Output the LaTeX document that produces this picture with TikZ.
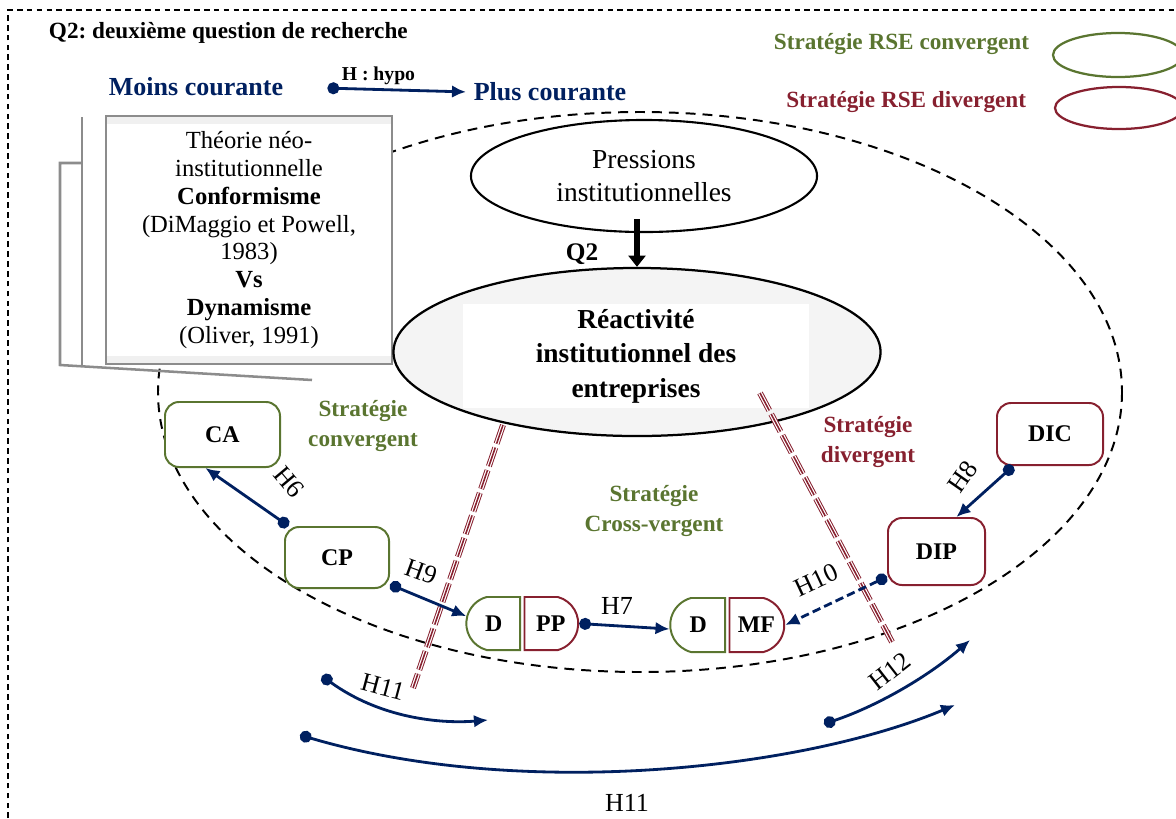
\documentclass[tikz,border=0pt]{standalone}
\usepackage{fontspec}
\setmainfont{Liberation Serif}
\usetikzlibrary{shapes.misc,shapes.geometric,arrows.meta}
\definecolor{navy}{HTML}{002060}
\definecolor{convgreen}{HTML}{5A7530}
\definecolor{divred}{HTML}{87202F}
\definecolor{boxgray}{HTML}{8C8C8C}
\frenchspacing

\begin{document}
\begin{tikzpicture}[x=0.025cm, y=-0.025cm,
    hyp/.style = {draw=navy, line width=2pt, {Circle[length=8.5pt]}-{Latex[length=10pt,width=9pt]}},
    hlabel/.style = {font=\fontsize{18.5}{20}\selectfont, inner sep=1pt},
    strat/.style = {font=\fontsize{16.5}{22}\selectfont\bfseries, align=center},
    conv/.style = {draw=convgreen, line width=1.4pt, fill=white, rounded corners=10pt, font=\fontsize{17}{20}\selectfont\bfseries},
    div/.style = {conv, draw=divred},
    halfnode/.style = {rounded rectangle, rounded rectangle arc length=150, line width=1.4pt, fill=white,
      minimum height=1.325cm, inner xsep=0.5pt, font=\fontsize{17}{20}\selectfont\bfseries}
  ]
  \useasboundingbox (0,0) rectangle (1176,818);
  % cadre et question
  \draw[line width=1pt, dash pattern=on 4pt off 3pt] (8,818) -- (8,10) -- (1176,10);
  \node[anchor=west, font=\fontsize{16.5}{19}\selectfont\bfseries] (titre) at (44,33) {Q2: deuxième question de recherche};
  \node[text=navy, font=\fontsize{18.5}{22}\selectfont\bfseries] (moins) at (196,87) {Moins courante};
  \node[text=navy, font=\fontsize{18.5}{22}\selectfont\bfseries] (plus) at (550,92) {Plus courante};
  \draw[hyp, shorten <=28pt, shorten >=2pt] (moins.east) -- node[above=-1pt, text=black, font=\fontsize{14}{16}\selectfont\bfseries] {H : hypo} (plus.west);
  % legende
  \node[anchor=east, text=convgreen, font=\fontsize{16.5}{19}\selectfont\bfseries] (legc) at (1034,44) {Stratégie RSE convergent};
  \node[anchor=east, text=divred, font=\fontsize{16.5}{19}\selectfont\bfseries] (legd) at (1031,102) {Stratégie RSE divergent};
  \node[ellipse, draw=convgreen, line width=1.6pt, minimum width=3.25cm, minimum height=1.1cm] (ellc) at (1118,55) {};
  \node[ellipse, draw=divred, line width=1.6pt, minimum width=3.2cm, minimum height=1.05cm] (elld) at (1119,108) {};

  % grande ellipse
  \draw[line width=1.4pt, dash pattern=on 7pt off 5pt] (640,392) ellipse [x radius=482, y radius=280];

  % theorie
  \draw[boxgray, line width=1.8pt] (82,117) -- (82,365);
  \draw[boxgray, line width=1.8pt] (82,163) -- (60,163) -- (60,365) -- (312,380);
  \node[draw=boxgray, line width=1.8pt, fill=white, minimum width=7.15cm, minimum height=6.2cm, align=center,
    font=\fontsize{17.5}{19.8}\selectfont,
    path picture={\fill[gray!12] (path picture bounding box.north west) rectangle ([yshift=-6pt]path picture bounding box.north east);
      \fill[gray!12] (path picture bounding box.south west) rectangle ([yshift=6pt]path picture bounding box.south east);}]
    (theorie) at (249,240) {Théorie néo-\\institutionnelle\\\textbf{Conformisme}\\(DiMaggio et Powell,\\1983)\\\textbf{Vs}\\\textbf{Dynamisme}\\(Oliver, 1991)};

  % pressions et reactivite
  \node[ellipse, draw, line width=1.5pt, fill=white, minimum width=8.65cm, minimum height=2.8cm, align=center,
    font=\fontsize{19.5}{24}\selectfont] (pressions) at (644,176) {Pressions\\institutionnelles};
  \node[ellipse, draw, line width=1.6pt, fill=gray!9, minimum width=12.175cm, minimum height=4.2cm] (reac) at (637,352) {};
  \node[fill=white, minimum width=8.625cm, minimum height=2.575cm, align=center,
    font=\fontsize{19.5}{24.5}\selectfont\bfseries] (reactxt) at (636,356) {Réactivité\\institutionnel des\\entreprises};
  \draw[line width=4pt, -{Triangle[length=8pt,width=12pt]}, shorten <=-10pt] (reac.north |- pressions.south) -- (reac.north);
  \node[font=\fontsize{18}{20}\selectfont\bfseries] (q2) at (582,254) {Q2};

  % separations
  \coordinate (sepA1) at (503,425);
  \coordinate (sepA2) at (413,688);
  \coordinate (sepB1) at (760,393);
  \coordinate (sepB2) at (892,642);
  \foreach \a/\b in {sepA1/sepA2, sepB1/sepB2} {
    \draw[divred, line width=4.2pt, dash pattern=on 14pt off 3pt] (\a) -- (\b);
    \draw[white, line width=2.8pt, dash pattern=on 14pt off 3pt] (\a) -- (\b);
    \draw[divred, line width=1.1pt, dash pattern=on 14pt off 3pt] (\a) -- (\b);
  }

  % textes strategies
  \node[strat, text=convgreen] (sconv) at (363,426) {Stratégie\\convergent};
  \node[strat, text=divred] (sdiv) at (868,442) {Stratégie\\divergent};
  \node[strat, text=convgreen] (scross) at (654,511) {Stratégie\\Cross-vergent};

  % noeuds
  \node[conv, minimum width=2.875cm, minimum height=1.625cm] (ca) at (222.5,434.5) {CA};
  \node[conv, minimum width=2.6cm, minimum height=1.525cm] (cp) at (337,557.5) {CP};
  \node[div, minimum width=2.425cm, minimum height=1.675cm] (dip) at (936.5,551.5) {DIP};
  \node[div, minimum width=2.65cm, minimum height=1.55cm] (dic) at (1050,434) {DIC};
  \node[halfnode, draw=convgreen, rounded rectangle east arc=none, anchor=east, minimum width=1.075cm] (dppL) at (521,623.5) {D};
  \node[halfnode, draw=divred, rounded rectangle west arc=none, anchor=west, minimum width=1.125cm] (dppR) at (523.5,623.5) {PP};
  \node[halfnode, draw=convgreen, rounded rectangle east arc=none, anchor=east, minimum width=1.25cm, minimum height=1.35cm] (dmfL) at (726,625) {D};
  \node[halfnode, draw=divred, rounded rectangle west arc=none, anchor=west, minimum width=1.4cm, minimum height=1.35cm] (dmfR) at (728.5,625) {MF};

  % hypotheses
  \draw[hyp] (cp.147) -- (ca.243);
  \draw[hyp] (cp.-27) -- (dppL.165);
  \draw[hyp] (dppR.east) -- (dmfL.188);
  \draw[hyp, dash pattern=on 6pt off 3pt] (dip.207) -- (dmfR.east);
  \draw[hyp] (dic.221) -- (dip.60);
  \node[hlabel, rotate=-50] (h6) at (289,482) {H6};
  \node[hlabel, rotate=-20] (h9) at (421,572) {H9};
  \node[hlabel] (h7) at (617,606) {H7};
  \node[hlabel, rotate=25] (h10) at (816,580) {H10};
  \node[hlabel, rotate=55] (h8) at (963,477) {H8};

  % fleches du bas
  \coordinate (h11a) at (322,676);
  \coordinate (h11b) at (488,720);
  \coordinate (h11c) at (300,735);
  \coordinate (h11d) at (955,705);
  \coordinate (h12a) at (824,724);
  \coordinate (h12b) at (970,640);
  \draw[hyp] (h11a) .. controls (380,718) and (440,724) .. (h11b);
  \draw[hyp] (h11c) .. controls (520,800) and (800,770) .. (h11d);
  \draw[hyp] (h12a) .. controls (880,705) and (930,675) .. (h12b);
  \node[hlabel, rotate=-15] (h11s) at (383,687) {H11};
  \node[hlabel] (h11l) at (627,803) {H11};
  \node[hlabel, rotate=38] (h12) at (890,671) {H12};
\end{tikzpicture}
\end{document}
